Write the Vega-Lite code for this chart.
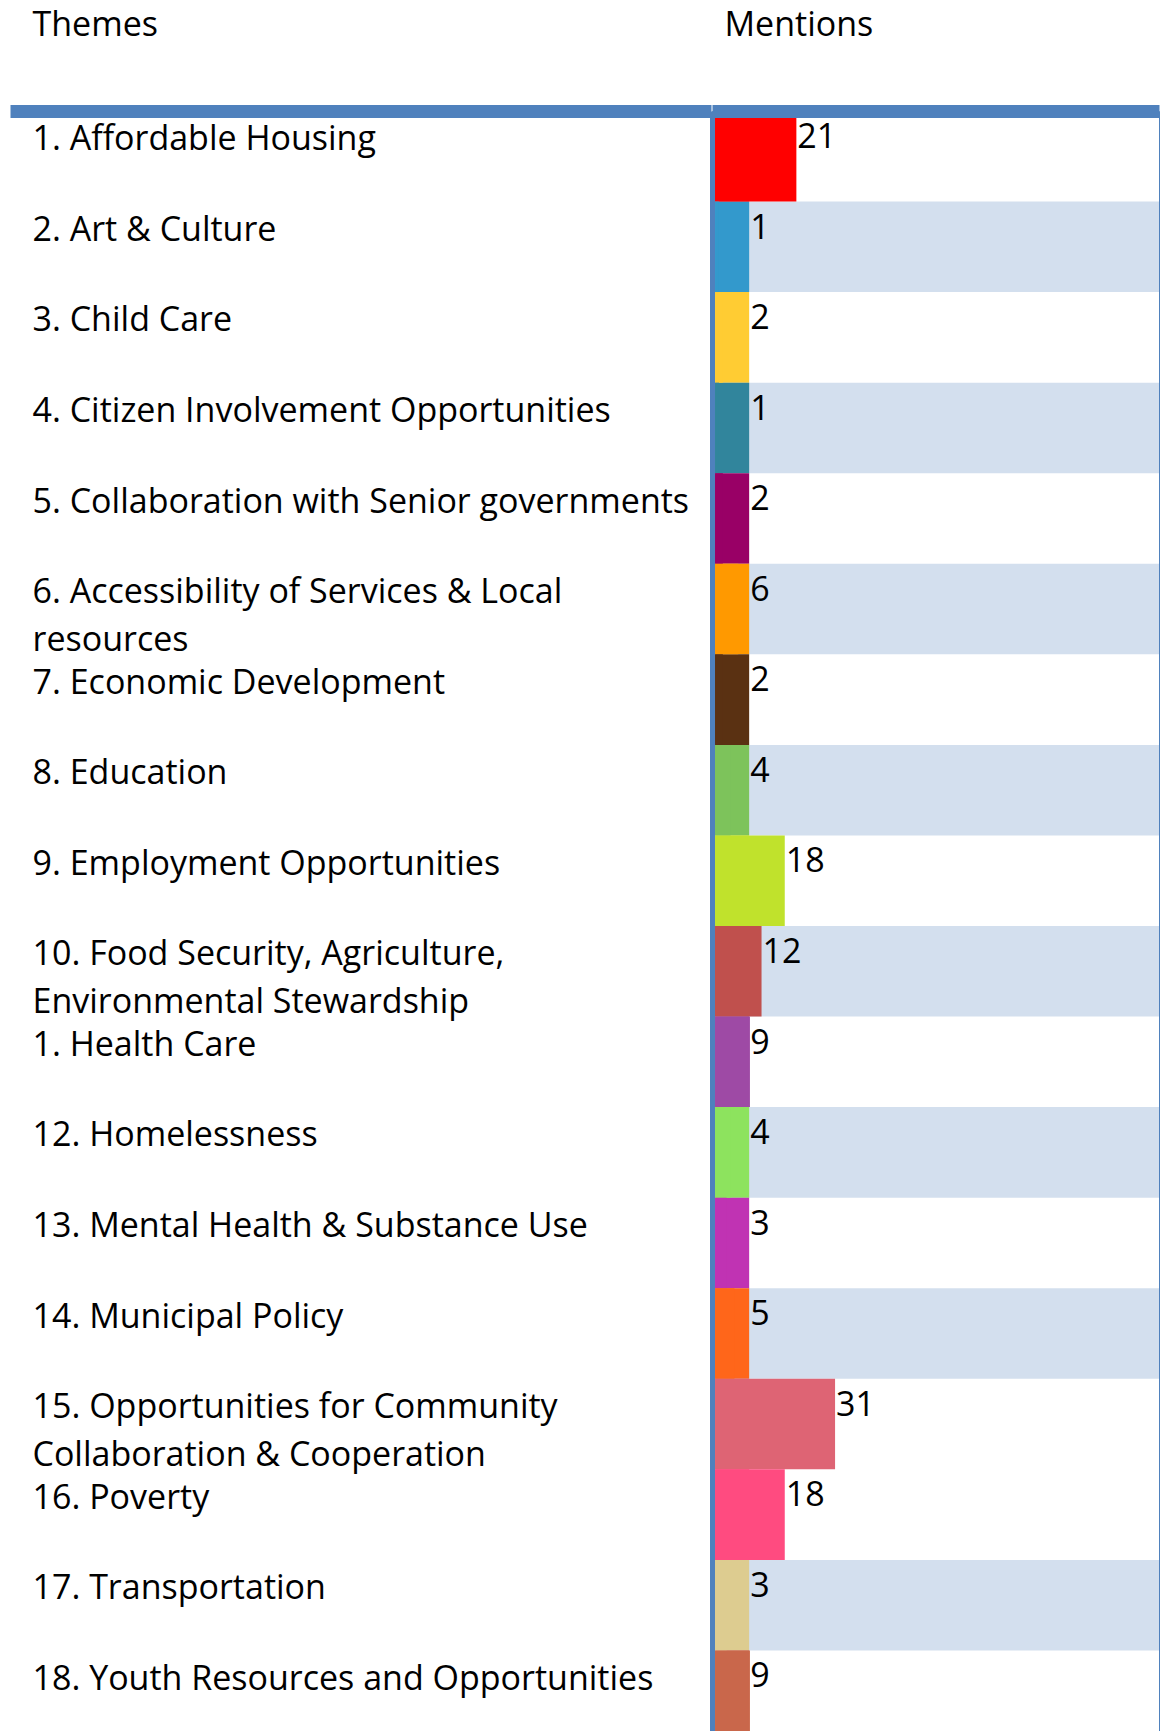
{
  "$schema": "https://vega.github.io/schema/vega-lite/v6.json",
  "padding": {"left": 10, "top": 8, "right": 9, "bottom": 0},
  "background": "white",
  "spacing": 0,
  "config": {"view": {"stroke": null}, "font": "Open Sans", "concat": {"spacing": 0}},
  "data": {"values": [
    {"theme": "1. Affordable Housing", "mentions": 21},
    {"theme": "2. Art & Culture", "mentions": 1},
    {"theme": "3. Child Care", "mentions": 2},
    {"theme": "4. Citizen Involvement Opportunities", "mentions": 1},
    {"theme": "5. Collaboration with Senior governments", "mentions": 2},
    {"theme": "6. Accessibility of Services & Local resources", "mentions": 6},
    {"theme": "7. Economic Development", "mentions": 2},
    {"theme": "8. Education", "mentions": 4},
    {"theme": "9. Employment Opportunities", "mentions": 18},
    {"theme": "10. Food Security, Agriculture, Environmental Stewardship", "mentions": 12},
    {"theme": "1. Health Care", "mentions": 9},
    {"theme": "12. Homelessness", "mentions": 4},
    {"theme": "13. Mental Health & Substance Use", "mentions": 3},
    {"theme": "14. Municipal Policy", "mentions": 5},
    {"theme": "15. Opportunities for Community Collaboration & Cooperation", "mentions": 31},
    {"theme": "16. Poverty", "mentions": 18},
    {"theme": "17. Transportation", "mentions": 3},
    {"theme": "18. Youth Resources and Opportunities", "mentions": 9}
  ]},
  "hconcat": [
    {
      "width": 701,
      "height": 1630,
      "mark": {"type": "rect", "fill": "white"},
      "encoding": {
        "x": {"datum": 0, "type": "quantitative", "scale": {"domain": [0, 1], "nice": false, "zero": false},
          "axis": {"orient": "top", "title": "Themes", "labels": false, "ticks": false, "grid": false,
            "domainColor": "#4F81BD", "domainWidth": 13, "titleFont": "Open Sans", "titleFontSize": 34,
            "titleFontWeight": "normal", "titleColor": "black", "titleAlign": "left", "titleBaseline": "alphabetic",
            "titleX": 22, "titleY": -75.5, "zindex": 1}},
        "x2": {"datum": 1},
        "y": {"field": "theme", "type": "nominal", "sort": null,
          "scale": {"paddingInner": 0, "paddingOuter": 0, "domain": ["1. Affordable Housing", "2. Art & Culture", "3. Child Care", "4. Citizen Involvement Opportunities", "5. Collaboration with Senior governments", "6. Accessibility of Services & Local resources", "7. Economic Development", "8. Education", "9. Employment Opportunities", "10. Food Security, Agriculture, Environmental Stewardship", "1. Health Care", "12. Homelessness", "13. Mental Health & Substance Use", "14. Municipal Policy", "15. Opportunities for Community Collaboration & Cooperation", "16. Poverty", "17. Transportation", "18. Youth Resources and Opportunities"]},
          "axis": {"orient": "left", "title": null, "domain": false, "ticks": false, "grid": false,
            "labelAlign": "left", "labelBaseline": "alphabetic", "labelPadding": -22,
            "labelOffset": -6, "labelFont": "Open Sans", "labelFontSize": 34, "labelColor": "black",
            "labelLimit": 1000, "labelLineHeight": 47.5, "labelOverlap": false,
            "labelExpr": "datum.value == '6. Accessibility of Services & Local resources' ? ['6. Accessibility of Services & Local', 'resources'] : datum.value == '10. Food Security, Agriculture, Environmental Stewardship' ? ['10. Food Security, Agriculture,', 'Environmental Stewardship'] : datum.value == '15. Opportunities for Community Collaboration & Cooperation' ? ['15. Opportunities for Community', 'Collaboration & Cooperation'] : datum.value"}}
      }
    },
    {
      "width": 447,
      "height": 1630,
      "view": {"stroke": "#4F81BD", "strokeWidth": 1},
      "layer": [
        {
          "transform": [{"filter": {"field": "theme", "oneOf": ["2. Art & Culture", "4. Citizen Involvement Opportunities", "6. Accessibility of Services & Local resources", "8. Education", "10. Food Security, Agriculture, Environmental Stewardship", "12. Homelessness", "14. Municipal Policy", "17. Transportation"]}}],
          "mark": {"type": "rect", "fill": "#D3DFEE"},
          "encoding": {
            "x": {"datum": -0.8, "type": "quantitative", "scale": {"domain": [-0.8, 114.7], "nice": false, "zero": false},
              "axis": {"orient": "top", "title": "Mentions", "labels": false, "ticks": false, "grid": false,
                "domainColor": "#4F81BD", "domainWidth": 13, "titleFont": "Open Sans", "titleFontSize": 34,
                "titleFontWeight": "normal", "titleColor": "black", "titleAlign": "left", "titleBaseline": "alphabetic",
                "titleX": 12, "titleY": -75.5, "zindex": 1}},
            "x2": {"datum": 114.7},
            "y": {"field": "theme", "type": "nominal", "sort": null,
              "scale": {"paddingInner": 0, "paddingOuter": 0, "domain": ["1. Affordable Housing", "2. Art & Culture", "3. Child Care", "4. Citizen Involvement Opportunities", "5. Collaboration with Senior governments", "6. Accessibility of Services & Local resources", "7. Economic Development", "8. Education", "9. Employment Opportunities", "10. Food Security, Agriculture, Environmental Stewardship", "1. Health Care", "12. Homelessness", "13. Mental Health & Substance Use", "14. Municipal Policy", "15. Opportunities for Community Collaboration & Cooperation", "16. Poverty", "17. Transportation", "18. Youth Resources and Opportunities"]},
              "axis": {"orient": "left", "title": null, "labels": false, "ticks": false, "grid": false,
                "domainColor": "#4F81BD", "domainWidth": 5, "zindex": 1}}
          }
        },
        {
          "mark": {"type": "rect"},
          "encoding": {
            "x": {"datum": 0, "type": "quantitative", "scale": {"domain": [-0.8, 114.7], "nice": false, "zero": false},
              "axis": {"orient": "top", "title": "Mentions", "labels": false, "ticks": false, "grid": false,
                "domainColor": "#4F81BD", "domainWidth": 13, "titleFont": "Open Sans", "titleFontSize": 34,
                "titleFontWeight": "normal", "titleColor": "black", "titleAlign": "left", "titleBaseline": "alphabetic",
                "titleX": 12, "titleY": -75.5, "zindex": 1}},
            "x2": {"datum": 8.8},
            "y": {"field": "theme", "type": "nominal", "sort": null,
              "scale": {"paddingInner": 0, "paddingOuter": 0, "domain": ["1. Affordable Housing", "2. Art & Culture", "3. Child Care", "4. Citizen Involvement Opportunities", "5. Collaboration with Senior governments", "6. Accessibility of Services & Local resources", "7. Economic Development", "8. Education", "9. Employment Opportunities", "10. Food Security, Agriculture, Environmental Stewardship", "1. Health Care", "12. Homelessness", "13. Mental Health & Substance Use", "14. Municipal Policy", "15. Opportunities for Community Collaboration & Cooperation", "16. Poverty", "17. Transportation", "18. Youth Resources and Opportunities"]},
              "axis": {"orient": "left", "title": null, "labels": false, "ticks": false, "grid": false,
                "domainColor": "#4F81BD", "domainWidth": 5, "zindex": 1}},
            "color": {"field": "theme", "type": "nominal", "legend": null,
              "scale": {"domain": ["1. Affordable Housing", "2. Art & Culture", "3. Child Care", "4. Citizen Involvement Opportunities", "5. Collaboration with Senior governments", "6. Accessibility of Services & Local resources", "7. Economic Development", "8. Education", "9. Employment Opportunities", "10. Food Security, Agriculture, Environmental Stewardship", "1. Health Care", "12. Homelessness", "13. Mental Health & Substance Use", "14. Municipal Policy", "15. Opportunities for Community Collaboration & Cooperation", "16. Poverty", "17. Transportation", "18. Youth Resources and Opportunities"],
                "range": ["#FF0000", "#3399CC", "#FFCC33", "#31859C", "#990066", "#FF9900", "#5A3112", "#7DC35B", "#C0E22C", "#C0504D", "#9E4AA5", "#8DE35E", "#C033B3", "#FF661A", "#DE6474", "#FF4B80", "#DDCC90", "#C9674B"]}}
          }
        },
        {
          "mark": {"type": "rect"},
          "encoding": {
            "x": {"field": "mentions", "type": "quantitative", "scale": {"domain": [-0.8, 114.7], "nice": false, "zero": false},
              "axis": {"orient": "top", "title": "Mentions", "labels": false, "ticks": false, "grid": false,
                "domainColor": "#4F81BD", "domainWidth": 13, "titleFont": "Open Sans", "titleFontSize": 34,
                "titleFontWeight": "normal", "titleColor": "black", "titleAlign": "left", "titleBaseline": "alphabetic",
                "titleX": 12, "titleY": -75.5, "zindex": 1}},
            "x2": {"datum": 0},
            "y": {"field": "theme", "type": "nominal", "sort": null,
              "scale": {"paddingInner": 0, "paddingOuter": 0, "domain": ["1. Affordable Housing", "2. Art & Culture", "3. Child Care", "4. Citizen Involvement Opportunities", "5. Collaboration with Senior governments", "6. Accessibility of Services & Local resources", "7. Economic Development", "8. Education", "9. Employment Opportunities", "10. Food Security, Agriculture, Environmental Stewardship", "1. Health Care", "12. Homelessness", "13. Mental Health & Substance Use", "14. Municipal Policy", "15. Opportunities for Community Collaboration & Cooperation", "16. Poverty", "17. Transportation", "18. Youth Resources and Opportunities"]},
              "axis": {"orient": "left", "title": null, "labels": false, "ticks": false, "grid": false,
                "domainColor": "#4F81BD", "domainWidth": 5, "zindex": 1}},
            "color": {"field": "theme", "type": "nominal", "legend": null}
          }
        },
        {
          "transform": [{"filter": "datum.mentions <= 9"}],
          "mark": {"type": "text", "align": "left", "baseline": "alphabetic", "dx": 1, "dy": 37, "fontSize": 34, "font": "Open Sans", "color": "black"},
          "encoding": {
            "x": {"datum": 8.8, "type": "quantitative", "scale": {"domain": [-0.8, 114.7], "nice": false, "zero": false},
              "axis": {"orient": "top", "title": "Mentions", "labels": false, "ticks": false, "grid": false,
                "domainColor": "#4F81BD", "domainWidth": 13, "titleFont": "Open Sans", "titleFontSize": 34,
                "titleFontWeight": "normal", "titleColor": "black", "titleAlign": "left", "titleBaseline": "alphabetic",
                "titleX": 12, "titleY": -75.5, "zindex": 1}},
            "y": {"field": "theme", "type": "nominal", "sort": null, "bandPosition": 0,
              "scale": {"paddingInner": 0, "paddingOuter": 0, "domain": ["1. Affordable Housing", "2. Art & Culture", "3. Child Care", "4. Citizen Involvement Opportunities", "5. Collaboration with Senior governments", "6. Accessibility of Services & Local resources", "7. Economic Development", "8. Education", "9. Employment Opportunities", "10. Food Security, Agriculture, Environmental Stewardship", "1. Health Care", "12. Homelessness", "13. Mental Health & Substance Use", "14. Municipal Policy", "15. Opportunities for Community Collaboration & Cooperation", "16. Poverty", "17. Transportation", "18. Youth Resources and Opportunities"]},
              "axis": {"orient": "left", "title": null, "labels": false, "ticks": false, "grid": false,
                "domainColor": "#4F81BD", "domainWidth": 5, "zindex": 1}},
            "text": {"field": "mentions", "type": "quantitative"}
          }
        },
        {
          "transform": [{"filter": "datum.mentions > 9"}],
          "mark": {"type": "text", "align": "left", "baseline": "alphabetic", "dx": 1, "dy": 37, "fontSize": 34, "font": "Open Sans", "color": "black"},
          "encoding": {
            "x": {"field": "mentions", "type": "quantitative", "scale": {"domain": [-0.8, 114.7], "nice": false, "zero": false},
              "axis": {"orient": "top", "title": "Mentions", "labels": false, "ticks": false, "grid": false,
                "domainColor": "#4F81BD", "domainWidth": 13, "titleFont": "Open Sans", "titleFontSize": 34,
                "titleFontWeight": "normal", "titleColor": "black", "titleAlign": "left", "titleBaseline": "alphabetic",
                "titleX": 12, "titleY": -75.5, "zindex": 1}},
            "y": {"field": "theme", "type": "nominal", "sort": null, "bandPosition": 0,
              "scale": {"paddingInner": 0, "paddingOuter": 0, "domain": ["1. Affordable Housing", "2. Art & Culture", "3. Child Care", "4. Citizen Involvement Opportunities", "5. Collaboration with Senior governments", "6. Accessibility of Services & Local resources", "7. Economic Development", "8. Education", "9. Employment Opportunities", "10. Food Security, Agriculture, Environmental Stewardship", "1. Health Care", "12. Homelessness", "13. Mental Health & Substance Use", "14. Municipal Policy", "15. Opportunities for Community Collaboration & Cooperation", "16. Poverty", "17. Transportation", "18. Youth Resources and Opportunities"]},
              "axis": {"orient": "left", "title": null, "labels": false, "ticks": false, "grid": false,
                "domainColor": "#4F81BD", "domainWidth": 5, "zindex": 1}},
            "text": {"field": "mentions", "type": "quantitative"}
          }
        }
      ]
    }
  ]
}
